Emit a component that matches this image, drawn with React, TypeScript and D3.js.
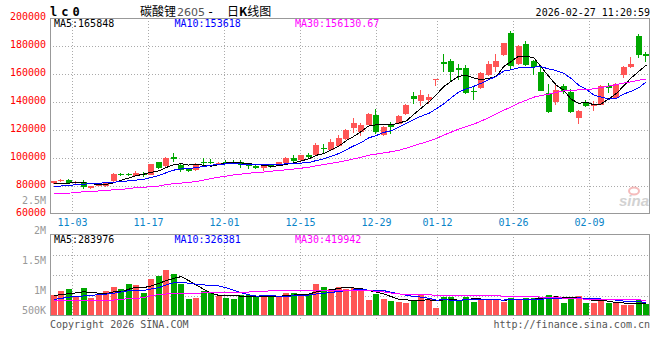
import React from "react";
import * as d3 from "d3";

// trading days in the window (MM-DD)
const dates = [
  "10-29", "10-30", "10-31",
  "11-03", "11-04", "11-05", "11-06", "11-07", "11-10", "11-11", "11-12", "11-13", "11-14",
  "11-17", "11-18", "11-19", "11-20", "11-21", "11-24", "11-25", "11-26", "11-27", "11-28",
  "12-01", "12-02", "12-03", "12-04", "12-05", "12-08", "12-09", "12-10", "12-11", "12-12",
  "12-15", "12-16", "12-17", "12-18", "12-19", "12-22", "12-23", "12-24", "12-25", "12-26",
  "12-29", "12-30", "12-31", "01-05", "01-06", "01-07", "01-08", "01-09",
  "01-12", "01-13", "01-14", "01-15", "01-16", "01-19", "01-20", "01-21", "01-22", "01-23",
  "01-26", "01-27", "01-28", "01-29", "01-30", "02-02", "02-03", "02-04", "02-05", "02-06",
  "02-09", "02-10", "02-11", "02-12", "02-13", "02-24", "02-25", "02-26", "02-27",
];

const opens = [
  82100, 83800, 84300, 82000, 83000, 78400, 80200, 79800, 83300, 88800,
  88400, 87500, 88500, 88000, 96800, 94000, 100500, 95000, 92000, 91200,
  97500, 97000, 95300, 97500, 97300, 97400, 95000, 94300, 93100, 94900,
  95000, 96500, 100300, 98300, 102400, 101900, 107300, 106000, 108400, 113400,
  121400, 118800, 123600, 130400, 116700, 123400, 124500, 131600, 144000, 141000,
  141700, 156000, 168600, 169500, 164300, 164000, 148200, 150000, 159400, 164700,
  173600, 189300, 166900, 181700, 169400, 161600, 146200, 139900, 151100, 147500,
  128900, 139600, 137200, 138200, 151400, 143000, 159400, 164800, 187200, 174200,
];
const highs = [
  83800, 85300, 85300, 83500, 84000, 80300, 81200, 83200, 89000, 89500,
  89600, 90800, 89800, 96000, 97300, 101000, 103300, 96300, 93000, 96300,
  100300, 99300, 97500, 98800, 98600, 98300, 95300, 94800, 95800, 95300,
  97500, 100700, 102100, 102000, 103600, 110500, 110200, 113800, 116600, 120600,
  128400, 124800, 131800, 135200, 123000, 125400, 131000, 138700, 147400, 148800,
  145700, 156500, 174300, 170500, 167000, 166700, 151600, 161200, 169500, 174300,
  182200, 190500, 180900, 183800, 170200, 165800, 152600, 152400, 152600, 149000,
  134000, 141600, 140900, 151900, 153600, 153800, 165500, 172400, 188300, 176000,
];
const lows = [
  81200, 82600, 81200, 81500, 78000, 78200, 79800, 79500, 83000, 87200,
  87000, 86800, 86500, 87800, 92000, 93800, 96900, 89800, 89800, 90500,
  95000, 95500, 95000, 95500, 96000, 93000, 92300, 92300, 91000, 92800,
  94400, 96000, 97100, 98000, 99500, 101600, 103800, 105300, 107800, 113000,
  117900, 115900, 123400, 117200, 115800, 117200, 124300, 131000, 138400, 136900,
  138600, 151600, 161600, 154500, 155800, 145800, 141400, 149300, 158300, 161600,
  172500, 163500, 166400, 165400, 159300, 147800, 132100, 137600, 145800, 132100,
  124000, 136100, 133300, 137600, 146200, 142400, 157000, 164100, 171200, 168800,
];
const closes = [
  83600, 84000, 82000, 83000, 79200, 80000, 80700, 83000, 88800, 88200,
  88000, 89000, 88200, 95700, 93000, 100200, 99300, 91300, 91000, 95800,
  96500, 96500, 96700, 97100, 97000, 95000, 94700, 92700, 94600, 93300,
  96900, 100000, 97700, 101800, 100600, 109500, 106200, 111400, 114600, 120300,
  124700, 123500, 131300, 118700, 122500, 122300, 130300, 138200, 142500, 145000,
  143900, 156400, 167000, 161700, 163100, 146300, 147700, 160600, 167200, 169400,
  181800, 165800, 179800, 166200, 164800, 148200, 132500, 148700, 147700, 132500,
  133700, 137500, 138300, 151100, 150300, 153000, 164700, 167200, 173700, 173100,
];
const volumes = [
  512000, 610000, 659000, 488000, 683000, 439000, 512000, 610000, 707000, 659000,
  780000, 756000, 561000, 902000, 976000, 1122000, 1024000, 780000, 415000, 439000,
  610000, 561000, 488000, 439000, 415000, 512000, 512000, 463000, 488000, 463000,
  488000, 561000, 561000, 537000, 512000, 780000, 707000, 659000, 707000, 659000,
  683000, 659000, 390000, 537000, 415000, 366000, 341000, 317000, 390000, 512000,
  415000, 195000, 463000, 463000, 390000, 463000, 341000, 415000, 390000, 415000,
  341000, 446000, 390000, 439000, 439000, 463000, 512000, 488000, 317000, 439000,
  488000, 317000, 317000, 366000, 317000, 317000, 268000, 268000, 390000, 285000,
];

// averages at the start of the window, where the averaging span reaches back before the first candle
const ma5Lead = [81400, 81800, 82100, 82300];
const ma10Lead = [79600, 80000, 80400, 80900, 81300, 81700, 82000, 82300, 82700];
const ma30Lead = [
  74800, 74800, 74900, 75300, 76000, 76000, 76500, 77000, 77200, 77500,
  78200, 78900, 79000, 79700, 80000, 81000, 81700, 82100, 82700, 83100,
  84300, 85300, 86300, 87100, 87900, 88500, 89100, 89600, 90000,
];
const volMa5Lead = [500000, 520000, 545000, 565000];
const volMa10Lead = [400000, 430000, 460000, 475000, 490000, 505000, 520000, 535000, 555000];
const volMa30Lead = [
  366000, 366000, 366000, 390000, 390000, 390000, 390000, 390000, 390000, 410000,
  420000, 432000, 445000, 500000, 520000, 537000, 537000, 537000, 537000, 540000,
  575000, 580000, 580000, 580000, 580000, 580000, 585000, 590000, 595000,
];

const dateTicks = ["11-03", "11-17", "12-01", "12-15", "12-29", "01-12", "01-26", "02-09"];
const priceTicks = [200000, 180000, 160000, 140000, 120000, 100000, 80000, 60000];
const volTicks = [2500000, 2000000, 1500000, 1000000, 500000];
const volGridTicks = [1500000, 1000000, 500000];
const maNames = ["MA5", "MA10", "MA30"];
const priceMaLast = ["165848", "153618", "156130.67"];
const volMaLast = ["283976", "326381", "419942"];

const MONO = "'DejaVu Sans Mono', monospace";
const maColors = ["#000000", "#0000ff", "#ff00ff"];
const UP = "#ff5555";
const DOWN = "#00a800";
const GRID = "#aaaaaa";
const BORDER = "#999999";

const L = 50;
const R = 650;
const PT = 18;
const PB = 214;
const VT = 234;
const VB = 316;

function movingAvg(vals: number[], n: number, lead: number[]) {
  return vals.map((_, i) =>
    i < n - 1 ? lead[i] : (d3.mean(vals.slice(i - n + 1, i + 1)) as number)
  );
}

export default function App() {
  const x = d3.scaleBand<string>().domain(dates).range([L, R]);
  const gx = d3.scalePoint<string>().domain(dates).range([L - 0.5, R]);
  const y = d3.scaleLinear().domain([60000, 200000]).range([PB, PT]);
  const vy = d3.scaleLinear().domain([0, 2000000]).range([VB, VT]);
  // volume labels are stacked 30px apart, last one kept inside the panel
  const vLabelY = d3.scaleLinear().domain([1000000, 2500000]).range([294, 204]);

  const bw = 6;
  const left = (i: number) => Math.round((x(dates[i]) as number) + (x.bandwidth() - bw) / 2);
  const center = (i: number) => (x(dates[i]) as number) + x.bandwidth() / 2;

  const priceMa = [
    movingAvg(closes, 5, ma5Lead),
    movingAvg(closes, 10, ma10Lead),
    movingAvg(closes, 30, ma30Lead),
  ];
  const volMa = [
    movingAvg(volumes, 5, volMa5Lead),
    movingAvg(volumes, 10, volMa10Lead),
    movingAvg(volumes, 30, volMa30Lead),
  ];

  const priceLine = d3
    .line<number>()
    .x((_, i) => center(i))
    .y((v) => y(v));
  const volLine = d3
    .line<number>()
    .x((_, i) => center(i))
    .y((v) => vy(v));

  const fmtVol = (v: number) => (v >= 1e6 ? `${v / 1e6}M` : `${v / 1e3}K`);
  const gridXs = dateTicks.map((d) => Math.round(gx(d) as number) + 0.5);

  return (
    <svg
      width={660}
      height={360}
      style={{ position: "absolute", left: 0, top: 0, background: "#fff" }}
      fontFamily={MONO}
    >
      <rect width={660} height={360} fill="#fff" />

      {/* header */}
      <text x={50} y={16} fontSize={12} fontWeight="bold" letterSpacing={4} fill="#000">
        lc0
      </text>
      <text x={140} y={16} fontSize={12} fontFamily="'Noto Sans CJK SC'" fill="#000">
        碳酸锂
      </text>
      <text x={177} y={16} fontSize={11} fontFamily="'DejaVu Sans'" fill="#555">
        2605
      </text>
      <text x={207} y={16} fontSize={12} fill="#000">
        -
      </text>
      <text x={227} y={16} fontSize={12} fontFamily="'Noto Sans CJK SC'" fill="#000">
        日<tspan fontWeight="bold">K</tspan>线图
      </text>
      <text x={650} y={16} fontSize={10} textAnchor="end" fill="#000">
        2026-02-27 11:20:59
      </text>

      {/* price panel grid */}
      {priceTicks.slice(1, -1).map((t) => (
        <line
          key={t}
          x1={L}
          x2={R}
          y1={Math.round(y(t)) + 0.5}
          y2={Math.round(y(t)) + 0.5}
          stroke={GRID}
          strokeDasharray="1 2"
        />
      ))}
      {gridXs.map((gxv, i) => (
        <line key={i} x1={gxv} x2={gxv} y1={PT} y2={PB} stroke={GRID} strokeDasharray="1 2" />
      ))}

      {/* price labels */}
      {priceTicks.map((t) => (
        <text key={t} x={46} y={y(t) + 1.5} fontSize={10} textAnchor="end" fill="#ff0000">
          {t}
        </text>
      ))}
      {volTicks.map((t) => (
        <text
          key={t}
          x={46}
          y={Math.min(vLabelY(t), VB - 2)}
          fontSize={10}
          textAnchor="end"
          fill="#999"
        >
          {fmtVol(t)}
        </text>
      ))}

      {/* date labels */}
      {dateTicks.map((d, i) => (
        <text key={d} x={gridXs[i]} y={225.5} fontSize={10} textAnchor="middle" fill="#0a84c8">
          {d}
        </text>
      ))}

      {/* watermark */}
      <g opacity={0.75}>
        <ellipse cx={634} cy={191} rx={5} ry={3.5} fill="none" stroke="#f2a5a5" strokeWidth={2} />
        <text
          x={619}
          y={206}
          fontSize={15}
          fontWeight="bold"
          fontStyle="italic"
          fontFamily="'Liberation Sans'"
          fill="#c4c4c4"
        >
          sina
        </text>
      </g>

      {/* candles */}
      {dates.map((d, i) => {
        const o = opens[i];
        const c = closes[i];
        const up = c >= o;
        const col = up ? UP : DOWN;
        const lx = left(i);
        const wx = lx + 2.5;
        const top = Math.round(y(Math.max(o, c)));
        const bot = Math.round(y(Math.min(o, c)));
        return (
          <g key={d} shapeRendering="crispEdges">
            <line x1={wx} x2={wx} y1={Math.round(y(highs[i]))} y2={Math.round(y(lows[i]))} stroke={col} />
            <rect x={lx} y={top} width={bw} height={Math.max(1, bot - top)} fill={col} />
          </g>
        );
      })}

      {/* price moving averages */}
      {priceMa.map((m, k) => (
        <path
          key={k}
          d={priceLine(m) as string}
          fill="none"
          stroke={maColors[k]}
          strokeWidth={1}
          shapeRendering="crispEdges"
        />
      ))}

      {/* price panel frame */}
      <rect
        x={L + 0.5}
        y={PT + 0.5}
        width={R - L - 1}
        height={PB - PT - 1}
        fill="none"
        stroke={BORDER}
      />
      {maNames.map((n, k) => (
        <text key={n} x={54 + k * 120.5} y={27} fontSize={10} fill={maColors[k]}>
          {`${n}:${priceMaLast[k]}`}
        </text>
      ))}

      {/* volume panel grid */}
      {volGridTicks.map((t) => (
        <line
          key={t}
          x1={L}
          x2={R}
          y1={Math.round(vy(t)) + 0.5}
          y2={Math.round(vy(t)) + 0.5}
          stroke={GRID}
          strokeDasharray="1 2"
        />
      ))}
      {gridXs.map((gxv, i) => (
        <line key={i} x1={gxv} x2={gxv} y1={VT} y2={VB + 4} stroke={GRID} strokeDasharray="1 2" />
      ))}

      {/* volume bars */}
      {dates.map((d, i) => {
        const col = closes[i] >= opens[i] ? UP : DOWN;
        const top = Math.round(vy(volumes[i]));
        return (
          <rect
            key={d}
            x={left(i)}
            y={top}
            width={bw}
            height={VB - top}
            fill={col}
            shapeRendering="crispEdges"
          />
        );
      })}

      {volMa.map((m, k) => (
        <path
          key={k}
          d={volLine(m) as string}
          fill="none"
          stroke={maColors[k]}
          strokeWidth={1}
          shapeRendering="crispEdges"
        />
      ))}

      <rect
        x={L + 0.5}
        y={VT + 0.5}
        width={R - L - 1}
        height={VB - VT - 1}
        fill="none"
        stroke={BORDER}
      />
      {maNames.map((n, k) => (
        <text key={n} x={54 + k * 120.5} y={242.5} fontSize={10} fill={maColors[k]}>
          {`${n}:${volMaLast[k]}`}
        </text>
      ))}

      {/* footer */}
      <text x={50} y={328} fontSize={10} fill="#555">
        Copyright 2026 SINA.COM
      </text>
      <text x={650} y={328} fontSize={10} textAnchor="end" fill="#555">
        http://finance.sina.com.cn
      </text>
    </svg>
  );
}
